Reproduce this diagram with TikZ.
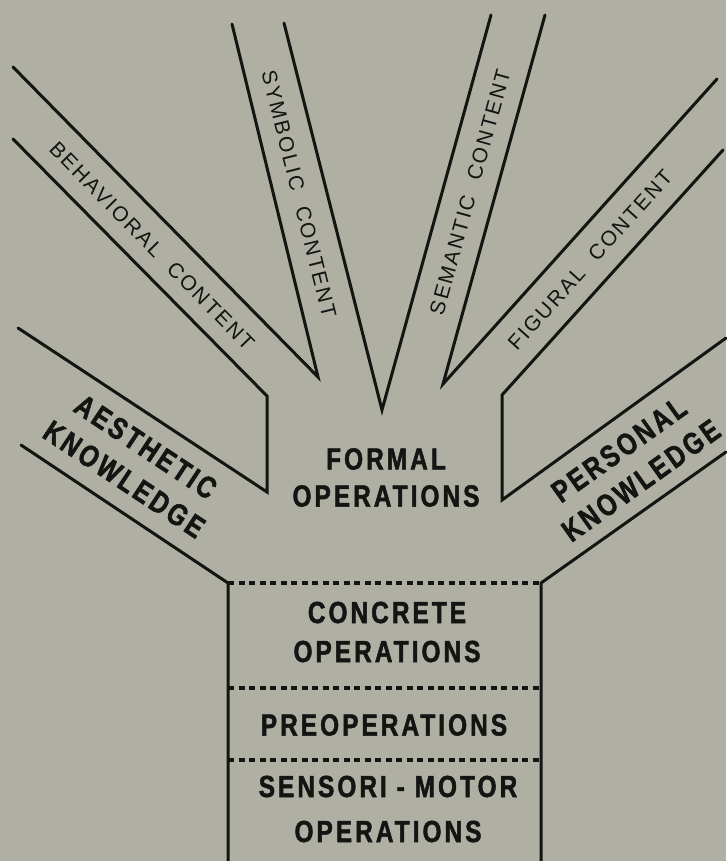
\documentclass[tikz,border=0pt]{standalone}
\usepackage{fontspec}
\setmainfont{Liberation Sans}
\newfontfamily\boldcond{Liberation Sans}[FakeStretch=0.8,LetterSpace=10,FakeBold=1.6]
\newfontfamily\regspaced{Liberation Sans}[LetterSpace=10]
\definecolor{paper}{RGB}{176,175,164}
\definecolor{ink}{RGB}{20,20,18}
\tikzset{
  bandline/.style={draw=ink, line width=3pt, line join=miter, line cap=round},
  stagesep/.style={draw=ink, line width=3.8pt, dash pattern=on 6pt off 4.5pt},
  stagetext/.style={text=ink, inner sep=0pt, align=center,
    font=\boldcond\bfseries\fontsize{30.5}{37}\selectfont},
  contenttext/.style={text=ink, inner sep=0pt,
    font=\regspaced\fontsize{21}{25}\selectfont},
}
\begin{document}
\begin{tikzpicture}[x=1pt,y=-1pt]
\useasboundingbox (0,0) rectangle (726,861);
\fill[paper] (0,0) rectangle (726,861);

% corner coordinates
\coordinate (behTop) at (13,67);
\coordinate (tipBS) at (318,377);
\coordinate (symLTop) at (232,24);
\coordinate (symRTop) at (284,23);
\coordinate (tipSS) at (382,410);
\coordinate (semLTop) at (491,15);
\coordinate (semRTop) at (545,15);
\coordinate (tipSF) at (443,384);
\coordinate (figTop) at (717,79);
\coordinate (figBot) at (723,150);
\coordinate (figCorner) at (502,395);
\coordinate (perCorner) at (502,500);
\coordinate (perTop) at (726,338);
\coordinate (behBot) at (13,139);
\coordinate (behCorner) at (267,396);
\coordinate (aesCorner) at (267,492);
\coordinate (aesTop) at (18,328);
\coordinate (aesBot) at (21,445);
\coordinate (boxTL) at (228,583);
\coordinate (boxBL) at (228,861);
\coordinate (perBot) at (726,452);
\coordinate (boxTR) at (541,583);
\coordinate (boxBR) at (541,861);
\coordinate (sepAL) at (228,688);
\coordinate (sepAR) at (541,688);
\coordinate (sepBL) at (228,760);
\coordinate (sepBR) at (541,760);

% branches
\draw[bandline] (behTop) -- (tipBS) -- (symLTop);
\draw[bandline] (symRTop) -- (tipSS) -- (semLTop);
\draw[bandline] (semRTop) -- (tipSF) -- (figTop);
\draw[bandline] (figBot) -- (figCorner) -- (perCorner) -- (perTop);
\draw[bandline] (behBot) -- (behCorner) -- (aesCorner) -- (aesTop);
\draw[bandline] (aesBot) -- (boxTL) -- (boxBL);
\draw[bandline] (perBot) -- (boxTR) -- (boxBR);

% stage separators
\draw[stagesep] (boxTL) -- (boxTR);
\draw[stagesep] (sepAL) -- (sepAR);
\draw[stagesep] (sepBL) -- (sepBR);

% content labels
\node[contenttext, rotate=-45.5] (behavioral) at (152,246) {BEHAVIORAL\hspace{0.4em} CONTENT};
\node[contenttext, rotate=-76] (symbolic) at (299,194) {SYMBOLIC\hspace{0.4em} CONTENT};
\node[contenttext, rotate=74.5] (semantic) at (470,192) {SEMANTIC\hspace{0.4em} CONTENT};
\node[contenttext, rotate=48] (figural) at (590,260) {FIGURAL\hspace{0.4em} CONTENT};

% knowledge labels
\node[stagetext, rotate=-33.5, font=\boldcond\bfseries\fontsize{30.5}{39}\selectfont] (aesthetic) at (135,463) {AESTHETIC\\KNOWLEDGE};
\node[stagetext, rotate=35.5, font=\boldcond\bfseries\fontsize{30.5}{38}\selectfont] (personal) at (630,465) {PERSONAL\\KNOWLEDGE};

% stages
\node[stagetext] (formal) at (386,477.5) {FORMAL\\OPERATIONS};
\node[stagetext, font=\boldcond\bfseries\fontsize{30.5}{39}\selectfont] (concrete) at (387,632) {CONCRETE\\OPERATIONS};
\node[stagetext] (preop) at (384,725) {PREOPERATIONS};
\node[stagetext, font=\boldcond\bfseries\fontsize{30.5}{45}\selectfont] (sensori) at (388,809) {SENSORI - MOTOR\\OPERATIONS};
\end{tikzpicture}
\end{document}
